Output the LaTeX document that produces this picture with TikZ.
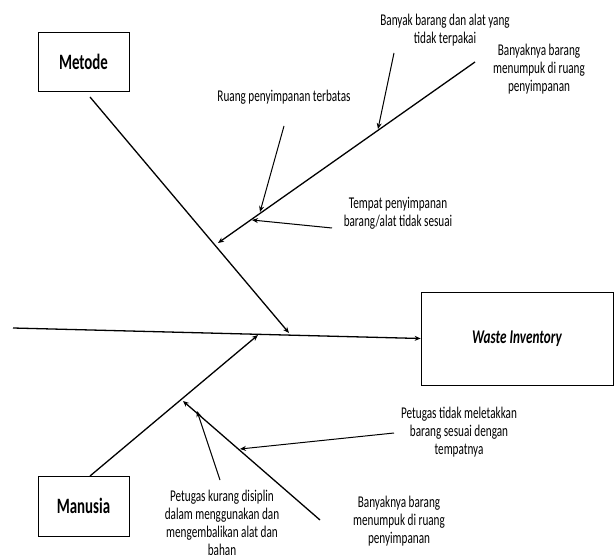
\documentclass[tikz,border=0pt]{standalone}
\usepackage{fontspec}
\setmainfont{Carlito}[FakeStretch=0.68]
\usetikzlibrary{arrows.meta}
\begin{document}
\begin{tikzpicture}[x=1bp,y=-1bp,font=\fontsize{16.5}{18}\selectfont,
 FBkutija/.style={draw,line width=.7pt,inner sep=0pt},
 FBkost/.style={line width=1.3pt,-{Stealth[length=6pt,width=5pt]}},
 FBuzrok/.style={line width=1pt,-{Stealth[length=6pt,width=5pt]}},
 FBtekst/.style={align=center,inner sep=0pt}]
\useasboundingbox (0,0) rectangle (614,555);
% kutije
\node[FBkutija,minimum width=91bp,minimum height=59bp,font=\fontsize{22}{24}\selectfont\bfseries] (metode) at (83.5,61.5) {Metode};
\node[FBkutija,minimum width=91bp,minimum height=60bp,font=\fontsize{22}{24}\selectfont\bfseries] (manusia) at (83.5,506) {Manusia};
\node[FBkutija,minimum width=192bp,minimum height=93bp,font=\fontsize{19.5}{22}\selectfont\bfseries\itshape] (waste) at (517,338.5) {Waste Inventory};
% glavna kost
\coordinate (rep) at (13,328);
\draw[FBkost] (rep) -- (waste.west);
% grane
\coordinate (metP) at (90,97);   \coordinate (metK) at (289,333);
\coordinate (manP) at (90,476);  \coordinate (manK) at (258,335);
\coordinate (gorP) at (475,62);  \coordinate (gorK) at (218,243);
\coordinate (dolP) at (320,520); \coordinate (dolK) at (183,401);
\foreach \p/\k in {metP/metK,manP/manK}{\draw[FBkost] (\p) -- (\k);}
\draw[FBuzrok,line width=1.3pt] (gorP) -- (gorK);
\draw[FBuzrok,line width=1.3pt] (dolP) -- (dolK);
% uzroci
\node[FBtekst] (u1) at (445,30) {Banyak barang dan alat yang\\tidak terpakai};
\node[FBtekst] (u2) at (539,69) {Banyaknya barang\\menumpuk di ruang\\penyimpanan};
\node[FBtekst] (u3) at (284,97) {Ruang penyimpanan terbatas};
\node[FBtekst] (u4) at (398,213) {Tempat penyimpanan\\barang/alat tidak sesuai};
\node[FBtekst] (u5) at (459,432) {Petugas tidak meletakkan\\barang sesuai dengan\\tempatnya};
\node[FBtekst] (u6) at (399,521) {Banyaknya barang\\menumpuk di ruang\\penyimpanan};
\node[FBtekst] (u7) at (222,523) {Petugas kurang disiplin\\dalam menggunakan dan\\mengembalikan alat dan\\bahan};
% strelice uzroka
\foreach \x/\y/\xx/\yy in {394/53/378/129, 284/126/260/212, 332/228/252/220, 394/433/240/449, 220/480/197/411}
 {\draw[FBuzrok] (\x,\y) -- (\xx,\yy);}
\end{tikzpicture}
\end{document}
